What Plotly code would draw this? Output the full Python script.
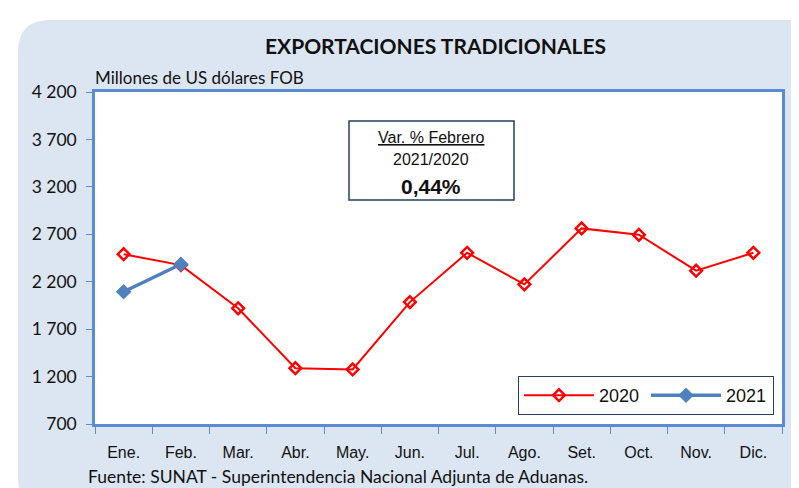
import plotly.graph_objects as go

meses = ["Ene.", "Feb.", "Mar.", "Abr.", "May.", "Jun.", "Jul.", "Ago.", "Set.", "Oct.", "Nov.", "Dic."]
exp_2020 = [2490, 2375, 1920, 1288, 1275, 1985, 2505, 2172, 2762, 2695, 2316, 2505]
exp_2021 = [2094, 2384]
y_ticks = [700, 1200, 1700, 2200, 2700, 3200, 3700, 4200]
y_tick_text = ["700", "1 200", "1 700", "2 200", "2 700", "3 200", "3 700", "4 200"]

# page body adds 8px around the figure, so lay out in screen pixels and shift
OFF = 8
W, H = 799, 488
plot_l, plot_r, plot_t, plot_b = 95, 782, 92, 424
L, T = plot_l - OFF, plot_t - OFF
R, B = W - (plot_r - OFF), H - (plot_b - OFF)
pw, ph = plot_r - plot_l, plot_b - plot_t

def px(x):
    return (x - plot_l) / pw

def py(y):
    return (plot_b - y) / ph

axis_blue = "#5b8bd0"
calibri = "Lato, Calibri, sans-serif"
arial = "Arial, Liberation Sans, sans-serif"

fig = go.Figure()

fig.add_trace(go.Scatter(
    x=meses, y=exp_2020, name="2020", mode="lines+markers",
    line=dict(color="#ff0000", width=2),
    marker=dict(symbol="diamond-open", size=9, color="#ff0000", line=dict(width=2.5))))

fig.add_trace(go.Scatter(
    x=meses[:len(exp_2021)], y=exp_2021, name="2021", mode="lines+markers",
    line=dict(color="#4f81bd", width=3.5),
    marker=dict(symbol="diamond", size=12, color="#4f81bd")))

# rounded light-blue panel behind the chart
x0, x1, y0, y1, r = 18, 830, 20, 510, 32
panel = (f"M {px(x0)},{py(y0 + r)} Q {px(x0)},{py(y0)} {px(x0 + r)},{py(y0)} "
         f"L {px(x1 - r)},{py(y0)} Q {px(x1)},{py(y0)} {px(x1)},{py(y0 + r)} "
         f"L {px(x1)},{py(y1 - r)} Q {px(x1)},{py(y1)} {px(x1 - r)},{py(y1)} "
         f"L {px(x0 + r)},{py(y1)} Q {px(x0)},{py(y1)} {px(x0)},{py(y1 - r)} Z")

shapes = [
    dict(type="path", path=panel, xref="paper", yref="paper",
         fillcolor="#dce6f2", line=dict(width=0), layer="below"),
    dict(type="rect", xref="paper", yref="paper", x0=0, x1=1, y0=0, y1=1,
         fillcolor="white", line=dict(width=0), layer="below"),
    dict(type="rect", xref="paper", yref="paper", x0=px(349), x1=px(514), y0=py(200), y1=py(121),
         fillcolor="white", line=dict(color="#243f60", width=1.5)),
]

def note(text, x, y, size, family, anchor="center"):
    return dict(text=text, x=px(x), y=py(y), xref="paper", yref="paper",
                xanchor=anchor, yanchor="middle", showarrow=False,
                font=dict(size=size, color="#111", family=family))

annotations = [
    note("<b>EXPORTACIONES TRADICIONALES</b>", 435, 45, 21, calibri),
    note("Millones de US dólares FOB", 93, 77, 17, calibri, "left"),
    note("Fuente: SUNAT - Superintendencia Nacional Adjunta de Aduanas.", 86, 476, 17.5, calibri, "left"),
    note("<u>Var. % Febrero</u>", 431, 137, 16, arial),
    note("2021/2020", 431, 159, 16, arial),
    note("<b>0,44%</b>", 431, 186, 21, arial),
]

fig.update_layout(
    width=W, height=H,
    margin=dict(l=L, r=R, t=T, b=B, autoexpand=False),
    paper_bgcolor="white",
    plot_bgcolor="rgba(0,0,0,0)",
    shapes=shapes,
    annotations=annotations,
    showlegend=True,
    legend=dict(orientation="h", x=px(518), y=py(376), xanchor="left", yanchor="top",
                bgcolor="white", bordercolor="#243f60", borderwidth=1,
                font=dict(size=18, color="#111", family=arial),
                entrywidth=42, itemwidth=70, tracegroupgap=0),
)

fig.update_xaxes(
    type="category", tickson="boundaries", ticks="outside", ticklen=7, tickcolor=axis_blue,
    showline=True, linecolor=axis_blue, linewidth=2.5, mirror=True, showgrid=False,
    automargin=False, ticklabelstandoff=12,
    tickfont=dict(size=16, color="#111", family="Liberation Sans Narrow, Arial Narrow, sans-serif"),
    range=[-0.5, 11.5])

fig.update_yaxes(
    range=[700, 4200], tickvals=y_ticks, ticktext=y_tick_text, ticks="outside", ticklen=6,
    tickcolor=axis_blue, showline=True, linecolor=axis_blue, linewidth=2.5, mirror=True,
    showgrid=False, zeroline=False, automargin=False, ticklabelstandoff=6,
    tickfont=dict(size=17.5, color="#111", family=calibri))

fig.write_html("out.html")
